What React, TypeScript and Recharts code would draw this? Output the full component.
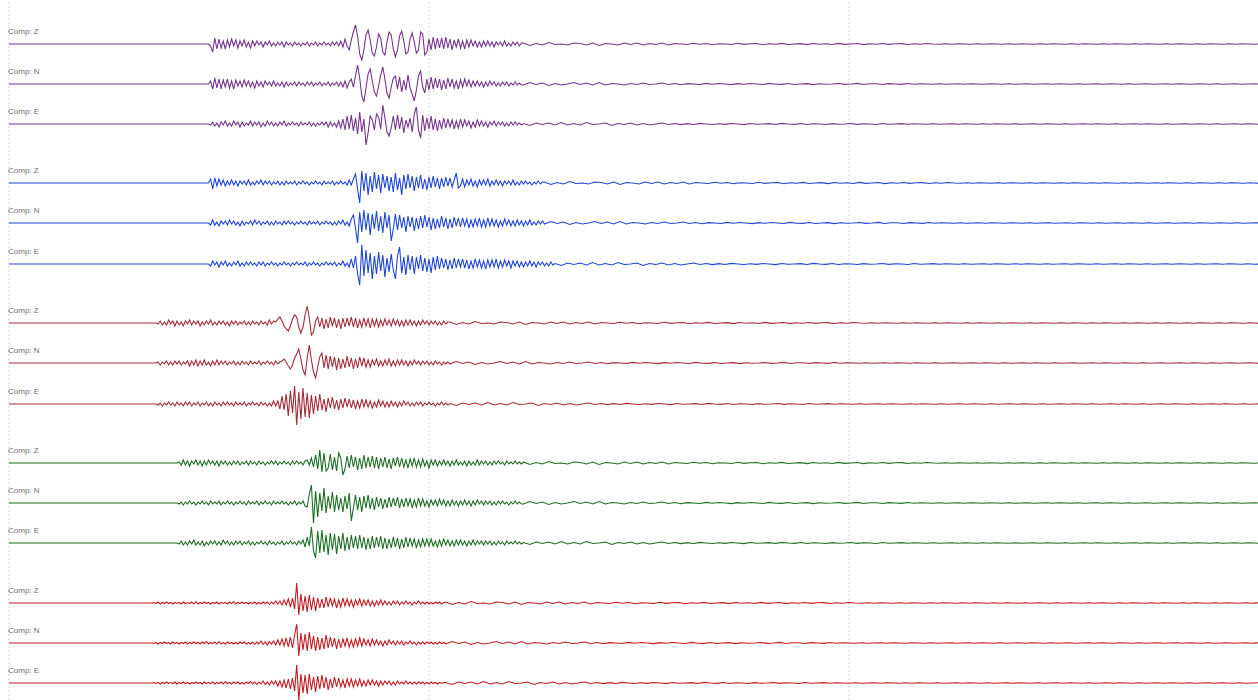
import { LineChart, Line, XAxis, YAxis, ReferenceLine } from "recharts";

// seconds per sample in the wave part, and in the coda
const STEP = 0.5;
const CODA_STEP = 1.5;
const T_MAX = 300;

const components = ["Z", "N", "E"];
const gridTimes = [0, 100, 200, 300];

// onset time (s) of each station
const onsets = [47.5, 47.5, 35, 40, 34];

// station 1 (purple)
const s1Z = [0,-2,-8,6,-5,5,-4,3,-5,4,-3,5,-2,4,-4,3,-2,4,-3,2,-4,3,-2,3,-1,2,-3,2,-1,3,-2,1,-2,2,-1,2,-3,2,-1,1,-2,2,-1,1,-2,1,-1,2,-2,1,-1,2,-2,1,-1,2,-1,1,-2,2,-1,2,-2,3,-3,5,-2,-6,4,12,19,8,-10,-16,-6,9,14,4,-9,-12,-3,10,6,-8,-11,2,12,9,-5,-13,-6,8,13,3,-10,-8,5,11,2,-9,-6,12,10,-11,-8,5,-6,7,-5,6,-4,6,-5,7,-4,5,-6,4,-3,5,-4,3,-5,4,-3,4,-2,3,-3,2,-3,3,-2,3,-2,2,-3,2,-1,2,-2,3,-2,1,-2,2,-1,2,-2,1];
const s1N = [0,3,-5,6,-4,5,-5,4,-3,5,-4,3,-5,4,-2,3,-3,4,-2,3,-3,2,-4,3,-2,2,-3,3,-1,2,-2,3,-2,1,-2,2,-3,2,-2,1,-1,2,-2,2,-1,1,-2,2,-1,2,-2,1,-1,2,-2,1,-1,2,-2,1,-1,2,-2,2,-3,3,-4,2,5,-3,8,19,6,-12,-18,-4,10,15,3,-8,-12,-2,9,17,5,-9,-14,-3,6,8,-5,7,-8,4,-6,9,-4,-10,-17,-6,8,13,-3,-9,5,-6,7,-5,6,-4,5,-6,4,-5,6,-3,5,-4,3,-5,4,-3,5,-2,4,-3,3,-2,3,-2,2,-3,2,-2,3,-1,2,-2,1,-2,2,-1,2,-2,1,-1,2,-1,1,-1];
const s1E = [0,-1,2,-2,1,-3,2,-1,3,-2,1,-2,3,-1,2,-3,2,-2,1,-1,3,-2,2,-1,2,-3,1,-2,3,-1,2,-2,1,-2,2,-1,3,-2,1,-1,2,-1,1,-2,2,-1,1,-1,2,-2,1,-2,1,-1,2,-1,2,-3,2,-2,1,-3,3,-4,5,-6,8,-5,9,-7,6,-10,12,-8,5,-21,-9,8,4,-6,10,7,-5,19,6,-8,-12,-4,8,-6,9,-5,7,-9,4,-3,6,-8,10,17,-6,-14,9,-7,6,-5,8,-6,5,-7,4,-5,6,-4,5,-3,4,-5,3,-4,5,-3,4,-2,3,-4,2,-3,4,-2,3,-2,2,-3,2,-1,3,-2,2,-1,2,-2,1,-2,2,-1,2,-1,1,-1];

// station 2 (blue)
const s2Z = [0,4,-6,5,-3,4,-2,3,-3,2,-2,3,-2,2,-3,2,-1,2,-2,3,-2,1,-2,2,-1,3,-2,2,-1,2,-2,1,-1,2,-2,1,-2,2,-1,1,-1,2,-2,1,-1,2,-1,1,-2,1,-1,2,-1,1,-2,2,-1,1,-1,2,-2,1,-1,2,-1,1,-2,3,-2,4,9,-6,-20,12,-8,10,-12,7,-9,11,-6,8,-10,9,-5,7,-8,6,-9,10,-7,5,-12,8,-6,9,-5,7,-8,6,-5,8,-6,4,-7,6,-5,7,-4,5,-6,5,-4,6,-3,5,-4,3,10,-5,-3,4,-4,3,-2,4,-3,2,-4,3,-2,3,-2,4,-3,2,-2,3,-2,2,-3,2,-1,2,-2,3,-2,1,-2,2,-1,2,-1,1,-2,1,-1,2,-1,1];
const s2N = [0,-2,3,-2,1,-3,2,-1,2,-2,3,-1,2,-2,1,-3,2,-2,1,-1,2,-2,3,-1,2,-2,1,-1,2,-2,1,-2,2,-1,1,-2,2,-1,2,-1,1,-2,1,-1,2,-1,1,-2,2,-1,1,-1,2,-2,1,-1,2,-1,1,-2,1,-2,2,-1,3,-2,1,-3,4,8,-5,-20,11,-9,13,-7,10,-12,9,-6,12,-8,7,-10,11,-5,8,-18,-6,9,-7,8,-5,6,-9,7,-4,6,-8,5,-6,7,-5,8,-4,6,-7,5,-6,4,-5,7,-4,5,-6,4,-5,6,-3,5,-4,5,-3,4,-5,3,-4,4,-3,5,-4,3,-4,5,-3,4,-3,3,-4,2,-3,4,-2,3,-3,2,-3,3,-2,2,-3,2,-2,3,-2,1,-2,2,-1,2];
const s2E = [0,-2,3,-1,2,-3,2,-1,3,-2,1,-2,2,-1,3,-2,1,-2,2,-1,2,-1,1,-2,2,-1,2,-2,1,-1,2,-1,1,-2,1,-1,2,-1,1,-2,1,-1,2,-1,1,-1,2,-2,1,-1,2,-1,1,-2,1,-1,2,-1,1,-1,2,-2,1,-1,3,-2,1,-3,5,-4,8,-10,-21,19,-12,14,-9,11,-15,8,-10,12,-7,9,-13,6,-8,10,-6,-15,8,17,-9,7,-11,9,-6,8,-10,7,-5,9,-7,6,-8,5,-9,7,-6,8,-5,6,-4,5,-6,4,-5,6,-4,5,-3,5,-4,4,-5,3,-4,5,-3,4,-4,3,-5,4,-3,4,-3,5,-4,3,-3,4,-2,3,-4,3,-2,3,-3,2,-3,2,-2,3,-2,2,-3,2,-1,2,-2,1,-2,2,-1];

// station 3 (dark red)
const s3Z = [0,-1,2,-2,1,-2,3,-1,2,-3,2,-2,1,-3,2,-1,3,-2,2,-1,2,-3,1,-2,2,-1,3,-2,1,-2,2,-1,2,-2,1,-3,2,-1,2,-2,1,-1,2,-2,1,-2,2,-1,1,-2,2,-1,1,-2,3,-1,2,1,4,6,2,-3,-6,-8,-3,4,8,6,-4,-10,-4,8,17,5,-12,-9,2,6,-4,5,-6,4,-5,6,-3,5,-5,4,-6,5,-4,5,-3,6,-4,5,-5,3,-4,5,-3,4,-5,4,-3,4,-4,3,-3,4,-2,3,-3,4,-2,3,-3,2,-3,3,-2,3,-2,2,-3,2,-2,3,-1,2,-2,2,-1,2,-2,1,-2,2,-1,1];
const s3N = [0,1,-2,1,-1,2,-2,1,-2,2,-1,2,-2,1,-1,2,-3,2,-2,3,-3,2,-2,3,-2,1,-3,2,-2,3,-2,2,-1,2,-2,1,-1,2,-2,1,-2,2,-1,1,-2,2,-1,1,-1,2,-2,1,-1,2,-1,1,-2,2,-1,1,2,4,1,-3,-6,-2,5,9,14,4,-7,-12,5,18,3,-9,-15,-4,6,10,-5,8,-6,7,-4,6,-7,5,-6,4,-5,7,-4,5,-6,4,-5,6,-3,5,-4,3,-4,3,-2,4,-3,2,-3,3,-2,4,-3,2,-3,3,-2,3,-2,2,-3,2,-2,3,-1,2,-2,2,-1,2,-2,1,-2,2,-1,1,-2,1,-1,1];
const s3E = [0,-1,1,-2,1,-1,2,-1,1,-2,2,-1,1,-2,2,-1,2,-2,1,-1,2,-2,1,-1,2,-2,1,-2,2,-1,1,-2,2,-1,2,-1,1,-2,2,-1,1,-1,2,-2,1,-1,2,-1,1,-2,2,-1,1,-2,1,-2,3,-2,3,-5,8,-6,10,-12,13,-9,18,-21,12,-15,16,-13,11,-14,9,-10,8,-7,10,-6,5,-8,6,-4,7,-5,4,-6,5,-4,6,-3,5,-4,4,-5,3,-4,5,-3,4,-3,3,-4,2,-3,4,-2,3,-3,2,-3,3,-2,2,-3,2,-2,3,-1,2,-2,1,-2,2,-1,2,-2,1,-1,2,-1,1,-2,1,-1,2,-1,1,-1];

// station 4 (green)
const s4Z = [0,1,-2,3,-2,2,-3,2,-1,3,-2,2,-3,2,-2,3,-1,2,-2,2,-3,2,-1,2,-2,1,-2,2,-1,2,-2,1,-1,2,-2,2,-1,1,-2,2,-1,1,-2,1,-1,2,-1,2,-2,1,-1,2,-1,1,-2,2,-1,2,-1,1,-2,2,3,-2,5,-4,8,-6,13,-9,10,-8,-5,9,-7,6,-8,10,5,-12,-6,7,-5,8,-4,6,-7,5,-6,8,-5,6,-4,7,-5,6,-6,5,-4,6,-5,4,-6,5,-3,6,-4,5,-4,3,-5,4,-3,5,-4,3,-4,4,-3,2,-5,3,-2,3,-3,2,-2,3,-2,2,-3,2,-2,3,-2,1,-2,2,-3,2,-2,1,-2,3,-2,2,-1,2,-2,1,-2,2,-1,2,-1,1,-2,2,-1,1,-1,2,-1,1,-1];
const s4N = [0,-1,1,-2,1,-1,2,-1,1,-2,1,-1,2,-1,1,-2,2,-1,1,-1,2,-2,1,-1,2,-1,1,-2,1,-1,2,-1,1,-2,2,-1,1,-1,2,-2,1,-1,2,-1,1,-2,2,-1,1,-1,2,-1,1,-2,1,-1,2,-2,1,-1,2,-3,-4,9,18,-20,12,-14,10,-8,15,-10,7,-6,11,-9,8,-7,5,-9,7,-6,10,-18,-5,8,-7,6,-9,7,-5,8,-6,5,-7,6,-4,5,-6,4,-5,6,-4,5,-3,6,-5,4,-4,5,-3,4,-5,3,-4,5,-3,4,-3,2,-4,3,-2,3,-3,4,-2,3,-3,2,-3,3,-2,2,-3,2,-2,3,-2,2,-3,2,-2,3,-1,2,-2,2,-1,2,-2,1,-2,2,-1,2,-1,1,-2,1,-1,2,-1,1,-1];
const s4E = [0,-1,2,-2,1,-2,2,-1,3,-2,1,-2,2,-3,1,-2,2,-1,2,-2,1,-2,3,-1,2,-2,1,-2,2,-1,2,-2,1,-1,2,-2,1,-2,1,-1,2,-1,1,-2,2,-1,1,-2,1,-1,2,-2,1,-1,2,-1,1,-2,2,-1,3,-4,6,-3,16,-8,-15,12,-10,13,-9,8,-12,10,-7,9,-11,7,-6,10,-8,6,-7,8,-5,7,-6,8,-5,6,-7,5,-6,7,-5,6,-4,7,-6,5,-6,4,-5,6,-4,5,-6,4,-5,6,-4,5,-3,4,-5,3,-4,4,-3,4,-3,4,-3,2,-4,3,-3,4,-2,3,-3,2,-3,3,-2,3,-2,2,-3,2,-2,3,-2,2,-1,2,-2,2,-1,2,-2,1,-2,2,-1,1,-2,2,-1,1,-1,2,-1,1,-1];

// station 5 (red)
const s5Z = [0,0.5,-0.5,1,-1,0.5,-0.5,1,-0.5,0.5,-1,0.5,-0.5,0.5,-1,1,-0.5,0.5,-0.5,1,-1,1.5,-1,0.5,-0.5,1,-0.5,0.5,-1,0.5,-0.5,1,-1,0.5,-0.5,0.5,-1,1,-0.5,1.5,-1,0.5,-0.5,1,-0.5,0.5,-1,0.5,-0.5,1,-1,0.5,-1,1,-0.5,1,-1.5,1,-1,2,-1,2,-2,3,-2,4,-4,5,-6,20,-12,9,-8,7,-9,8,-7,6,-8,5,-5,4,-5,6,-4,5,-3,4,-5,3,-4,5,-3,4,-3,3,-4,3,-2,4,-3,3,-2,3,-3,2,-3,2,-2,3,-2,2,-2,1,-2,2,-1,2,-2,1,-1,2,-1,1,-2,1,-1,2,-1,1,-1,1,-1,0.5,-1,1,-0.5,1,-1,0.5];
const s5N = [0,-0.5,0.5,-1,0.5,-0.5,1,-0.5,0.5,-1,1,-0.5,0.5,-1,0.5,-0.5,1,-1,0.5,-0.5,1,-0.5,0.5,-1,1,-0.5,1.5,-1,0.5,-0.5,1,-1,1.5,-1,0.5,-1,1,-0.5,0.5,-1,0.5,-1,1,-0.5,1,-1,0.5,-1,1,-1.5,1,-1,2,-1.5,1,-2,1.5,-1,2,-2,3,-2,4,-3,5,-4,6,-5,8,19,-13,10,-7,9,-8,11,-6,7,-8,6,-7,5,-6,8,-5,6,-4,5,-6,4,-5,4,-3,5,-4,3,-4,4,-3,5,-3,4,-2,3,-3,4,-2,3,-2,2,-3,2,-2,3,-1,2,-2,2,-1,2,-2,1,-1,2,-1,1,-2,1,-1,1,-1,1,-0.5,1,-1,0.5,-1,1,-0.5,0.5];
const s5E = [0,0.5,-0.5,0.5,-1,0.5,-0.5,1,-0.5,0.5,-0.5,1,-1,0.5,-0.5,1,-0.5,0.5,-1,0.5,-0.5,1,-0.5,0.5,-1,1,-0.5,0.5,-0.5,1,-1,0.5,-0.5,1,-1,1.5,-0.5,0.5,-1,1,-0.5,1,-1,0.5,-1,1,-0.5,1.5,-1,1,-1.5,1,-1,2,-1.5,1,-2,2,-1,2,-3,2,-4,3,-5,4,-6,5,-8,18,-17,9,-10,8,-11,9,-7,6,-9,7,-6,8,-5,6,-7,4,-5,6,-4,5,-4,3,-5,4,-3,4,-4,3,-3,4,-3,2,-3,3,-2,3,-2,2,-3,2,-2,2,-1,2,-2,1,-2,2,-1,1,-1,2,-1,1,-1,1,-1,1,-0.5,1,-1,0.5,-1,1,-0.5,0.5,-1,0.5,-0.5,0.5];

// long quiet tails, one per component
const codaZ = [1,-1.5,0.5,-1,1.5,-0.5,0,-1,1,0.5,-1,1,-1.5,0.5,0,-1,1,-0.5,1,-1,0.5,-0.5,1,-1,0.5,0,-0.5,0.8,-0.3,0.5,-0.8,0.3,0,-0.5,0.7,-0.4,0.2,0.5,-0.7,0.3,-0.3,0.6,-0.5,0,0.4,-0.6,0.5,-0.2,0.3,-0.5,0.6,-0.4,0,0.5,-0.6,0.3,-0.2,0.5,-0.4,0.2,0.4,-0.5,0.3,-0.3,0.5,0,-0.3,0.3,-0.2,0.3,0,-0.3,0.2,-0.3,0.3,0,-0.2,0.3,-0.3,0.2,0,-0.3,0.3,-0.2,0.2,0,-0.3,0.3,-0.2,0.3,0,-0.3,0.2,-0.2,0.3,0,-0.3,0.3,-0.2,0.2,0,-0.3,0.3,-0.2,0.3,0,-0.2,0.3,-0.3,0.2,0,-0.3,0.3,-0.2,0.2,0,-0.3,0.3,-0.2,0.3,0,-0.3,0.2,-0.2,0.3,0,-0.3,0.3,-0.2,0.2,0,-0.3];
const codaN = [-1,1.5,-0.5,1,-1.5,0.5,-1,0,1.5,-0.5,1,-1,1.5,-1,0.5,0,-1,0.5,-0.5,1,-0.5,0,1,-0.5,0.5,-0.7,0.4,0,-0.5,0.6,-0.3,0.5,0,-0.6,0.4,-0.3,0.5,0,-0.5,0.6,-0.2,-0.4,0.5,-0.5,0,0.4,-0.6,0.3,-0.3,0,0.5,-0.4,0,0.6,-0.5,0.2,0.3,-0.5,0.4,0,-0.4,0.5,-0.3,0.3,0,-0.2,0.3,-0.3,0,0.3,-0.2,0.2,0,-0.3,0.3,0,-0.2,0.3,-0.3,0,0.2,-0.3,0,0.3,-0.2,0.3,0,-0.3,0.2,-0.3,0,0.3,-0.2,0.2,0,-0.3,0.3,-0.2,0,0.3,-0.3,0,0.2,-0.3,0.3,0,-0.2,0.3,0,-0.3,0.2,-0.2,0,0.3,-0.3,0,0.3,-0.2,0.3,0,-0.3,0.2,-0.3,0,0.3,-0.2,0,0.3,-0.3,0.2,0,-0.3];
const codaE = [0.5,-1.5,1,-0.5,1,-1,1.5,-1,0.5,-1,1.5,-0.5,0,1,-1.5,0.5,-0.5,1,-1,0.5,-1,0,1,-0.5,0.5,-0.6,0.4,-0.5,0.6,0,-0.5,0.3,-0.4,0.5,0,-0.6,0.5,-0.3,0,0.4,-0.5,0.6,0,-0.4,0.5,-0.5,0.3,0,-0.5,0.4,-0.3,0,0.5,-0.4,0.3,0,-0.5,0.5,-0.3,0,0.4,-0.3,0.3,0,-0.3,0.3,-0.2,0,0.3,-0.3,0.2,0,-0.3,0.3,-0.2,0.3,0,-0.3,0.2,-0.3,0,0.3,-0.2,0.2,0,-0.3,0.3,-0.2,0,0.3,-0.3,0.2,0,-0.2,0.3,-0.3,0,0.3,-0.2,0.3,0,-0.3,0.2,-0.2,0,0.3,-0.3,0.3,0,-0.2,0.2,-0.3,0,0.3,-0.2,0.3,0,-0.3,0.2,-0.2,0,0.3,-0.3,0.2,0,-0.3,0.3,-0.2,0,0.3,-0.3];

const waves = [
  [s1Z, s1N, s1E],
  [s2Z, s2N, s2E],
  [s3Z, s3N, s3E],
  [s4Z, s4N, s4E],
  [s5Z, s5N, s5E],
];
const codas = [codaZ, codaN, codaE];

const colors = ["#74368a", "#1f45d6", "#a32c3a", "#1f6e26", "#c41a22"];
// page y of each trace's zero line
const baselines = [44, 84, 124, 183, 223, 264, 323, 363, 404, 463, 503, 543, 603, 643, 683];

const LEFT = 8;
const CHART_W = 1261;
const TRACE_H = 60;
const MARGIN = { top: 0, right: 0, bottom: 0, left: 1 };

function buildTrace(t0: number, wave: number[], coda: number[]) {
  const pts: { t: number; v: number }[] = [{ t: 0, v: 0 }];
  wave.forEach((v, i) => pts.push({ t: t0 + i * STEP, v }));
  const end = t0 + wave.length * STEP;
  coda.forEach((v, i) => {
    const t = end + i * CODA_STEP;
    if (t <= T_MAX) pts.push({ t, v });
  });
  pts.push({ t: T_MAX, v: 0 });
  return pts;
}

function Trace({ data, color }: { data: { t: number; v: number }[]; color: string }) {
  return (
    <LineChart width={CHART_W} height={TRACE_H} data={data} margin={MARGIN}>
      <XAxis type="number" dataKey="t" domain={[0, T_MAX]} hide />
      <YAxis type="number" domain={[-30, 30]} hide allowDataOverflow />
      <Line
        type="linear"
        dataKey="v"
        stroke={color}
        strokeWidth={1.1}
        dot={false}
        activeDot={false}
        isAnimationActive={false}
      />
    </LineChart>
  );
}

const gridData = [
  { t: 0, v: 0 },
  { t: T_MAX, v: 1 },
];

export default function App() {
  const traces: { key: string; label: string; color: string; base: number; data: { t: number; v: number }[] }[] = [];
  waves.forEach((group, g) => {
    group.forEach((wave, c) => {
      const idx = g * 3 + c;
      traces.push({
        key: `${g}-${c}`,
        label: `Comp: ${components[c]}`,
        color: colors[g],
        base: baselines[idx],
        data: buildTrace(onsets[g], wave, codas[c]),
      });
    });
  });

  return (
    <div
      style={{
        position: "absolute",
        left: 0,
        top: 0,
        width: 1258,
        height: 700,
        overflow: "hidden",
        background: "#fff",
        fontFamily: "'Liberation Sans', Arial, sans-serif",
      }}
    >
      <div style={{ position: "absolute", left: LEFT, top: 0 }}>
        <LineChart width={CHART_W} height={700} data={gridData} margin={MARGIN}>
          <XAxis type="number" dataKey="t" domain={[0, T_MAX]} hide />
          <YAxis type="number" domain={[0, 1]} hide />
          <Line dataKey="v" stroke="none" dot={false} activeDot={false} isAnimationActive={false} />
          {gridTimes.map((t) => (
            <ReferenceLine key={t} x={t} stroke="#d2d2d2" strokeDasharray="2 2" ifOverflow="visible" />
          ))}
        </LineChart>
      </div>
      {traces.map((tr) => (
        <div key={tr.key}>
          <div
            style={{
              position: "absolute",
              left: LEFT,
              top: tr.base - 16,
              fontSize: 8,
              lineHeight: "8px",
              color: "#6f6f6f",
              whiteSpace: "nowrap",
            }}
          >
            {tr.label}
          </div>
          <div style={{ position: "absolute", left: LEFT, top: tr.base - TRACE_H / 2 }}>
            <Trace data={tr.data} color={tr.color} />
          </div>
        </div>
      ))}
    </div>
  );
}
